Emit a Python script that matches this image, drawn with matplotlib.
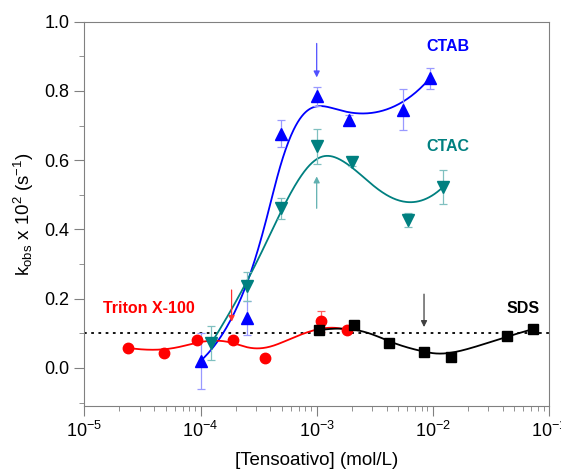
import numpy as np
import matplotlib
matplotlib.use("Agg")
import matplotlib.pyplot as plt
from matplotlib.ticker import LogLocator, MultipleLocator, NullFormatter

# =========================
# Data
# =========================
ctab_x = [1.0e-4, 2.5e-4, 4.9e-4, 1.0e-3, 1.9e-3, 5.5e-3, 9.4e-3]
ctab_y = [0.02, 0.144, 0.677, 0.784, 0.717, 0.746, 0.836]
ctab_err = [0.08, 0.05, 0.04, 0.027, 0.012, 0.06, 0.03]

ctac_x = [1.24e-4, 2.5e-4, 4.9e-4, 1.0e-3, 2.0e-3, 6.1e-3, 1.22e-2]
ctac_y = [0.072, 0.236, 0.461, 0.64, 0.594, 0.427, 0.522]
ctac_err = [0.05, 0.042, 0.03, 0.05, 0.01, 0.02, 0.05]

triton_x = [2.35e-5, 4.8e-5, 9.4e-5, 1.89e-4, 3.56e-4, 1.08e-3, 1.82e-3]
triton_y = [0.058, 0.043, 0.081, 0.081, 0.029, 0.135, 0.109]
triton_err = [0, 0, 0, 0, 0, 0.03, 0]

sds_x = [1.05e-3, 2.1e-3, 4.2e-3, 8.4e-3, 1.43e-2, 4.35e-2, 7.3e-2]
sds_y = [0.109, 0.124, 0.072, 0.046, 0.032, 0.092, 0.112]
sds_err = [0, 0.012, 0, 0, 0, 0, 0]

# cmc arrows: x, y start, y end
arrow_x = [1.0e-3, 1.0e-3, 1.85e-4, 8.4e-3]
arrow_y0 = [0.937, 0.461, 0.225, 0.213]
arrow_y1 = [0.839, 0.553, 0.133, 0.118]
arrow_colors = ["#5050ff", "#60b0b0", "#ff3030", "#404040"]

reference_level = 0.1


def bspline(xs, ys, n=300):
    """Clamped cubic B-spline using the points as control points (log x)."""
    P = np.column_stack([np.log10(xs), ys])
    k = 3
    m = len(P)
    knots = np.concatenate([np.zeros(k), np.arange(m - k + 1), np.full(k, m - k)]).astype(float)
    t = np.linspace(0, m - k, n)
    t[-1] -= 1e-9
    # degree 0
    N = np.zeros((n, len(knots) - 1))
    for i in range(len(knots) - 1):
        N[:, i] = (t >= knots[i]) & (t < knots[i + 1])
    for d in range(1, k + 1):
        Nn = np.zeros((n, len(knots) - 1 - d))
        for i in range(len(knots) - 1 - d):
            a = knots[i + d] - knots[i]
            b = knots[i + d + 1] - knots[i + 1]
            left = (t - knots[i]) / a * N[:, i] if a > 0 else 0
            right = (knots[i + d + 1] - t) / b * N[:, i + 1] if b > 0 else 0
            Nn[:, i] = left + right
        N = Nn
    C = N @ P
    return 10 ** C[:, 0], C[:, 1]


plt.rcParams["font.family"] = ["Liberation Sans", "DejaVu Sans"]
plt.rcParams["mathtext.default"] = "regular"

fig = plt.figure(figsize=(5.61, 4.71), dpi=100)
ax = fig.add_axes([0.1505, 0.138, 0.828, 0.816])

series = [
    (ctab_x, ctab_y, ctab_err, "#0000ff", "#9999ff", "^", 8),
    (ctac_x, ctac_y, ctac_err, "#008080", "#80c0c0", "v", 8),
    (triton_x, triton_y, triton_err, "#ff0000", "#ff6060", "o", 7.5),
    (sds_x, sds_y, sds_err, "#000000", "#404040", "s", 6.5),
]

ax.axhline(reference_level, color="black", linestyle=(0, (1.5, 2.5)), lw=1.3, zorder=1)

for xs, ys, err, col, ecol, mk, ms in series:
    cx, cy = bspline(xs, ys)
    ax.plot(cx, cy, color=col, lw=1.3, zorder=2)
    ax.errorbar(xs, ys, yerr=err, fmt="none", ecolor=ecol, elinewidth=0.9,
                capsize=3, capthick=0.9, zorder=3)
    ax.plot(xs, ys, linestyle="none", marker=mk, markersize=ms, color=col,
            markeredgecolor=col, zorder=4)

for x, y0, y1, c in zip(arrow_x, arrow_y0, arrow_y1, arrow_colors):
    ax.annotate("", xy=(x, y1), xytext=(x, y0),
                arrowprops=dict(arrowstyle="-|>", color=c, lw=0.9,
                                mutation_scale=9, shrinkA=0, shrinkB=0))

ax.text(1.35e-2, 0.928, "CTAB", color="#0000ff", fontsize=11.5, fontweight="bold",
        ha="center", va="center")
ax.text(1.35e-2, 0.64, "CTAC", color="#008080", fontsize=11.5, fontweight="bold",
        ha="center", va="center")
ax.text(3.56e-5, 0.173, "Triton X-100", color="#ff0000", fontsize=11.5, fontweight="bold",
        ha="center", va="center")
ax.text(5.97e-2, 0.173, "SDS", color="#000000", fontsize=11.5, fontweight="bold",
        ha="center", va="center")

ax.set_xscale("log")
ax.set_xlim(1e-5, 1e-1)
ax.set_ylim(-0.11, 1.0)
ax.xaxis.set_major_locator(LogLocator(base=10, numticks=10))
ax.xaxis.set_minor_locator(LogLocator(base=10, subs=np.arange(2, 10), numticks=20))
ax.xaxis.set_minor_formatter(NullFormatter())
ax.yaxis.set_major_locator(MultipleLocator(0.2))
ax.yaxis.set_minor_locator(MultipleLocator(0.1))
ax.yaxis.set_major_formatter(plt.FuncFormatter(lambda v, p: f"{v:.1f}"))

for s in ax.spines.values():
    s.set_color("#808080")
ax.tick_params(which="both", direction="out", color="#808080", top=False, right=False)
ax.tick_params(which="major", length=7, labelsize=13, pad=4)
ax.tick_params(which="minor", length=3.5)

ax.set_xlabel("[Tensoativo] (mol/L)", fontsize=13.5, labelpad=8)
ax.set_ylabel("k$_{obs}$ x 10$^{2}$ (s$^{-1}$)", fontsize=13.5, labelpad=6)

fig.savefig("out.png", dpi=100)
